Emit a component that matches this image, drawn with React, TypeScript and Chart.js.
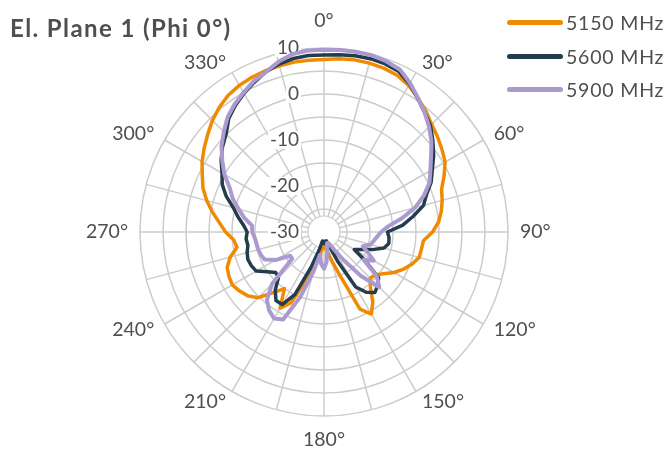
import React, { useEffect, useRef } from 'react';
import { Chart, registerables } from 'chart.js';

Chart.register(...registerables);

// Angles (degrees) of the sampled points
const angles = [
  0, 5, 10, 15, 20, 25, 30, 35, 40, 45, 50, 55,
  60, 65, 70, 75, 80, 85, 90, 95, 100, 105, 110, 115,
  120, 125, 130, 135, 140, 145, 150, 155, 160, 165, 170, 175,
  180, 185, 190, 195, 200, 205, 210, 215, 220, 225, 230, 235,
  240, 245, 250, 255, 260, 265, 270, 275, 280, 285, 290, 295,
  300, 305, 310, 315, 320, 325, 330, 335, 340, 345, 350, 355,
];

const seriesNames = ['5150 MHz', '5600 MHz', '5900 MHz'];
const seriesColors = ['#f08a00', '#243d4d', '#ab9ad0'];

const gain5150 = [
  7.5, 7.8, 8.0, 8.0, 7.9, 7.6, 6.8, 5.6, 4.4, 3.1, 2.2, 1.3,
  0.4, -1.2, -2.8, -3.4, -4.1, -5.0, -6.4, -8.3, -8.5, -8.6, -9.6, -10.9,
  -12.4, -14.2, -15.5, -15.8, -14.3, -11.5, -9.4, -11.5, -20, -23.5, -25.5, -26.5,
  -27, -26.5, -25, -23, -19, -13, -10.9, -15, -12.8, -9.8, -8.4, -7.6,
  -7.0, -7.2, -7.6, -8.9, -10.8, -10.3, -8.6, -7.2, -5.4, -3.6, -2.0, -0.8,
  0.6, 1.8, 3.0, 4.3, 5.4, 6.3, 6.8, 7.1, 7.3, 7.4, 7.5, 7.5,
];

const gain5600 = [
  8.5, 8.7, 8.9, 9.0, 8.9, 8.5, 7.2, 5.5, 4.0, 2.7, 0.9, -0.9,
  -2.8, -4.3, -6.3, -7.6, -10.3, -12.8, -16.2, -15.8, -15.7, -16.5, -18.8, -21,
  -22.4, -19, -14.5, -13.5, -12.8, -14, -16.2, -23, -27, -28, -28, -28,
  -27.5, -28, -28, -26, -22, -15, -11.8, -11.8, -13.5, -16, -16.3, -14.9,
  -13.0, -12.6, -12.4, -12.7, -13.2, -13.0, -13.3, -12.4, -11.0, -9.6, -7.4, -5.6,
  -4.4, -2.7, -1.2, 0.1, 2.2, 3.6, 4.8, 5.9, 7.0, 7.8, 8.3, 8.5,
];

const gain5900 = [
  9.6, 9.7, 9.8, 9.8, 9.5, 9.0, 7.4, 5.6, 4.0, 2.3, 0.5, -1.6,
  -3.3, -4.7, -6.9, -9.5, -12.8, -16.0, -17.6, -18.4, -19.0, -19.5, -21, -19.5,
  -17.5, -19.5, -15, -13, -17.5, -22.5, -25.5, -27, -27.5, -27.5, -26, -23.5,
  -22, -23, -25, -21, -15, -9, -8.3, -9.2, -10.7, -14, -21, -21,
  -17.8, -15.8, -15.4, -15.2, -15.1, -14.9, -14.4, -14.3, -12.4, -10.8, -8.9, -7.4,
  -5.0, -3.0, -0.9, 0.8, 2.6, 3.9, 5.0, 6.2, 7.0, 8.3, 9.3, 9.6,
];

const seriesValues = [gain5150, gain5600, gain5900];

const radialTickLabels = [10, 0, -10, -20, -30];
const angleLabels = [0, 30, 60, 90, 120, 150, 180, 210, 240, 270, 300, 330];

const titleText = 'El. Plane 1 (Phi 0°)';

const TEXT_COLOR = '#4f4f4f';
const GRID_COLOR = '#cccccc';
const FONT = 'Lato, "Open Sans", sans-serif';

const decorPlugin = {
  id: 'polarDecor',
  beforeDatasetsDraw(chart: any) {
    const s = chart.scales.r;
    const ctx = chart.ctx;
    const cx = s.xCenter;
    const cy = s.yCenter;
    const R = s.drawingArea;
    ctx.save();
    // center disk
    ctx.beginPath();
    ctx.arc(cx, cy, 16, 0, Math.PI * 2);
    ctx.fillStyle = '#ffffff';
    ctx.fill();
    ctx.lineWidth = 1.2;
    ctx.strokeStyle = GRID_COLOR;
    ctx.stroke();

    // radial tick labels, left of the 0° axis
    ctx.font = `19px ${FONT}`;
    ctx.textAlign = 'right';
    ctx.textBaseline = 'middle';
    radialTickLabels.forEach((v) => {
      const y = cy - s.getDistanceFromCenterForValue(v);
      const text = String(v);
      const w = ctx.measureText(text).width;
      const xr = cx - 25;
      ctx.fillStyle = '#ffffff';
      ctx.fillRect(xr - w - 2, y - 9, w + 4, 18);
      ctx.fillStyle = TEXT_COLOR;
      ctx.fillText(text, xr, y);
    });

    // angular labels
    ctx.font = `19.5px ${FONT}`;
    angleLabels.forEach((a) => {
      const t = (a * Math.PI) / 180;
      let d = R + 12;
      let align: CanvasTextAlign = a < 180 ? 'left' : 'right';
      if (a === 0) { d = R + 27; align = 'center'; }
      if (a === 180) { d = R + 24; align = 'center'; }
      const x = cx + d * Math.sin(t);
      const y = cy - d * Math.cos(t);
      ctx.textAlign = align;
      ctx.textBaseline = 'middle';
      ctx.fillStyle = TEXT_COLOR;
      ctx.fillText(`${a}°`, x, y);
    });
    ctx.restore();
  },
};

export default function App() {
  const canvasRef = useRef<HTMLCanvasElement | null>(null);

  useEffect(() => {
    const canvas = canvasRef.current;
    if (!canvas) return;
    const chart = new Chart(canvas, {
      type: 'radar',
      data: {
        labels: angles.map((a) => `${a}°`),
        datasets: seriesNames.map((name, i) => ({
          label: name,
          data: seriesValues[i],
          borderColor: seriesColors[i],
          backgroundColor: seriesColors[i],
          borderWidth: i === 2 ? 4 : 3.5,
          pointRadius: 0,
          pointHoverRadius: 0,
          fill: false,
          tension: 0,
          borderJoinStyle: 'round' as const,
          order: 3 - i,
        })),
      },
      options: {
        responsive: false,
        animation: false,
        devicePixelRatio: 1,
        layout: { padding: { left: 140, right: 160, top: 48, bottom: 39 } },
        plugins: {
          legend: { display: false },
          title: { display: false },
          tooltip: { enabled: false },
        },
        scales: {
          r: {
            min: -30,
            max: 10,
            startAngle: 0,
            ticks: { stepSize: 5, display: false },
            pointLabels: { display: false },
            grid: { circular: true, color: GRID_COLOR, lineWidth: 1.5 },
            angleLines: {
              display: true,
              color: GRID_COLOR,
              lineWidth: (ctx: any) => (ctx.index % 3 === 0 ? 1.5 : 0),
            },
          },
        },
      },
      plugins: [decorPlugin],
    });
    return () => chart.destroy();
  }, []);

  return (
    <div style={{ position: 'absolute', left: 0, top: 0, width: 668, height: 455, background: '#fff' }}>
      <canvas ref={canvasRef} width={668} height={455} style={{ position: 'absolute', left: 0, top: 0 }} />
      <div
        style={{
          position: 'absolute', left: 10, top: 12, fontFamily: FONT, fontWeight: 700,
          fontSize: 24, letterSpacing: '1.4px', color: TEXT_COLOR, whiteSpace: 'nowrap', lineHeight: '32px',
        }}
      >
        {titleText}
      </div>
      {seriesNames.map((name, i) => (
        <div
          key={name}
          style={{
            position: 'absolute', left: 507, top: [22, 56, 89][i] - 12, height: 24,
            display: 'flex', alignItems: 'center', whiteSpace: 'nowrap',
          }}
        >
          <div style={{ width: 56, height: 5, borderRadius: 3, background: seriesColors[i] }} />
          <span style={{ marginLeft: 3, fontFamily: FONT, fontSize: 19.5, letterSpacing: '0.8px', color: TEXT_COLOR }}>
            {name}
          </span>
        </div>
      ))}
    </div>
  );
}
